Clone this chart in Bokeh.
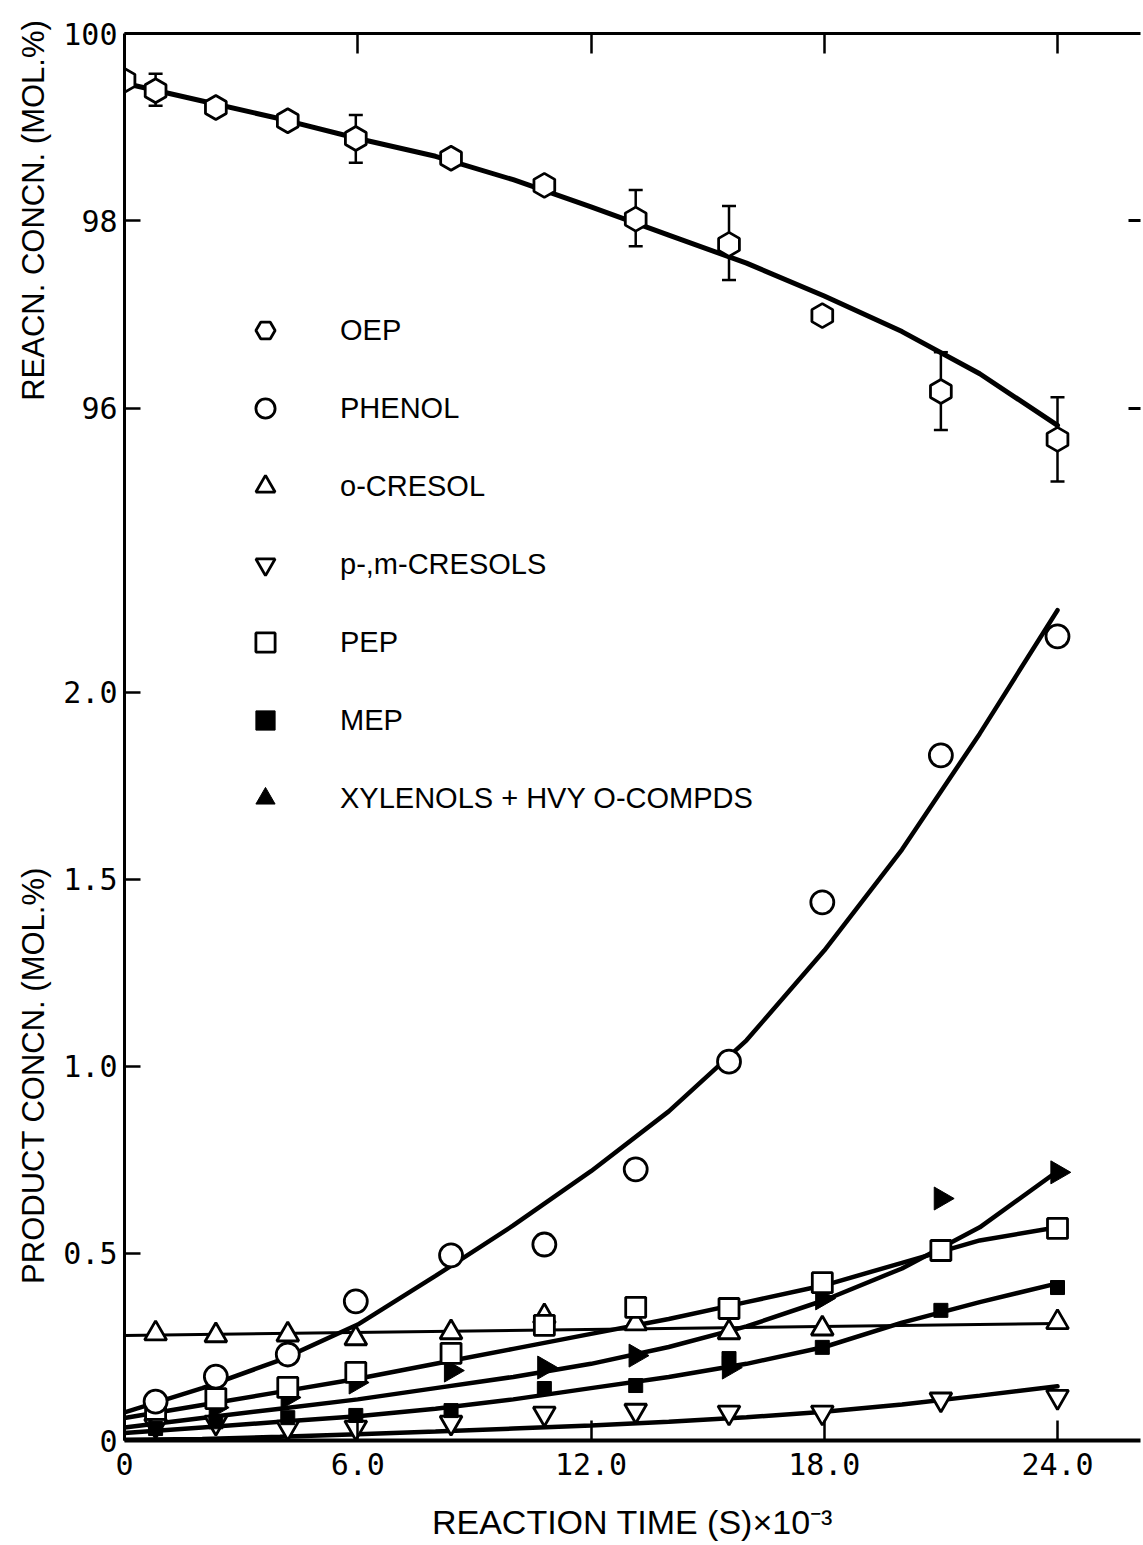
import numpy as np
from bokeh.plotting import figure
from bokeh.layouts import row
from bokeh.models import Range1d, LinearAxis, FixedTicker, Legend, LegendItem
from bokeh.core.properties import value
from bokeh.embed import file_html
from bokeh.resources import INLINE

# ---------------- data ----------------
# reaction time (s) x 1e-3
t_prod = [0.8, 2.35, 4.2, 5.95, 8.4, 10.8, 13.15, 15.55, 17.95, 21.0, 24.0]
t_oep = [0.0, 0.8, 2.35, 4.2, 5.95, 8.4, 10.8, 13.15, 15.55, 17.95, 21.0, 24.0]
t_ocresol = [0.8, 2.35, 4.2, 5.95, 8.4, 10.8, 13.15, 15.55, 17.95, 24.0]

# reactant (OEP) concentration, mol %
oep = [99.50, 99.39, 99.21, 99.07, 98.88, 98.67, 98.38, 98.02, 97.75, 96.99, 96.18, 95.67]
err_t = [0.8, 5.95, 13.15, 15.55, 21.0, 24.0]
err_hi = [99.57, 99.13, 98.33, 98.16, 96.60, 96.12]
err_lo = [99.23, 98.62, 97.73, 97.37, 95.77, 95.22]

# products, mol %
phenol = [0.104, 0.171, 0.230, 0.372, 0.495, 0.524, 0.725, 1.013, 1.439, 1.832, 2.150]
o_cresol = [0.286, 0.281, 0.283, 0.273, 0.289, 0.332, 0.313, 0.289, 0.299, 0.316]
pm_cresols = [0.040, 0.048, 0.035, 0.035, 0.048, 0.072, 0.080, 0.075, 0.075, 0.110, 0.117]
pep = [0.083, 0.112, 0.142, 0.182, 0.233, 0.308, 0.356, 0.353, 0.422, 0.508, 0.567]
mep = [0.032, 0.050, 0.061, 0.067, 0.080, 0.139, 0.147, 0.219, 0.249, 0.348, 0.409]
xylenols = [0.080, 0.088, 0.115, 0.155, 0.187, 0.195, 0.227, 0.195, 0.380, 0.647, 0.717]

# fitted curves
fit_t = [0, 2, 4, 6, 8, 10, 12, 14, 16, 18, 20, 22, 24]
oep_fit = [99.47, 99.28, 99.09, 98.88, 98.69, 98.44, 98.15, 97.85, 97.55, 97.20, 96.82, 96.37, 95.82]
phenol_fit = [0.075, 0.14, 0.215, 0.31, 0.44, 0.575, 0.72, 0.88, 1.07, 1.31, 1.58, 1.89, 2.22]
pep_fit = [0.06, 0.095, 0.13, 0.165, 0.205, 0.245, 0.285, 0.325, 0.37, 0.415, 0.475, 0.535, 0.57]
xyl_fit = [0.035, 0.06, 0.085, 0.11, 0.14, 0.17, 0.205, 0.25, 0.305, 0.375, 0.46, 0.57, 0.72]
mep_fit = [0.02, 0.035, 0.05, 0.065, 0.085, 0.11, 0.14, 0.17, 0.205, 0.25, 0.315, 0.37, 0.42]
pm_fit = [0.002, 0.004, 0.01, 0.017, 0.024, 0.032, 0.04, 0.05, 0.062, 0.077, 0.096, 0.12, 0.145]
ocresol_fit_t = [0, 24]
ocresol_fit = [0.281, 0.313]

# axes
x_ticks = [0, 6, 12, 18, 24]
x_tick_labels = ["0", "6.0", "12.0", "18.0", "24.0"]
prod_ticks = [0, 0.5, 1.0, 1.5, 2.0]
prod_tick_labels = ["0", "0.5", "1.0", "1.5", "2.0"]
reac_ticks = [96, 98, 100]
reac_tick_labels = ["96", "98", "100"]

reac_title = "REACN. CONCN. (MOL.%)"
prod_title = "PRODUCT CONCN. (MOL.%)"
x_title = "REACTION TIME (S)×10⁻³"

X_RANGE = (0.0, 26.135)
PROD_RANGE = (0.0, 3.762)
REAC_RANGE = (84.99, 100.0)

LABEL_FONT = "Liberation Sans"
TICK_FONT = "DejaVu Sans Mono"

TOP_B, BOT_B = 33, 105
TITLE_W = 56
PLOT_W, PLOT_H = 1087, 1545


def reac_to_prod(v):
    r0, r1 = REAC_RANGE
    p0, p1 = PROD_RANGE
    return p0 + (v - r0) / (r1 - r0) * (p1 - p0)


y_prod = Range1d(*PROD_RANGE)
y_reac = Range1d(*REAC_RANGE)

p = figure(width=PLOT_W, height=PLOT_H, output_backend="svg", toolbar_location=None,
           x_range=Range1d(*X_RANGE), y_range=y_prod,
           x_axis_location=None, y_axis_location=None,
           min_border_left=124 - TITLE_W, min_border_right=3, min_border_top=TOP_B,
           min_border_bottom=BOT_B)
p.extra_y_ranges = {"reac": y_reac}
p.outline_line_color = None
p.background_fill_color = "white"
p.border_fill_color = "white"
for g in p.grid:
    g.visible = False


def style_axis(ax, line_width):
    ax.axis_line_width = line_width
    ax.axis_line_color = "black"
    ax.major_tick_line_color = "black"
    ax.major_tick_out = 0
    ax.major_tick_line_width = 2.5
    ax.minor_tick_line_color = None
    ax.major_label_text_color = "black"
    ax.axis_label_text_color = "black"


def hide_labels(ax):
    ax.major_label_text_font_size = "0px"
    ax.major_label_standoff = 0
    ax.major_label_text_alpha = 0


# bottom axis
bottom = LinearAxis(ticker=FixedTicker(ticks=x_ticks),
                    major_label_overrides=dict(zip(x_ticks, x_tick_labels)))
style_axis(bottom, 4)
bottom.major_tick_in = 20
bottom.major_label_text_font = TICK_FONT
bottom.major_label_text_font_size = "30px"
bottom.major_label_standoff = 12
bottom.axis_label = x_title
bottom.axis_label_text_font = LABEL_FONT
bottom.axis_label_text_font_size = "34px"
bottom.axis_label_text_font_style = "normal"
bottom.axis_label_standoff = 25
p.add_layout(bottom, "below")

# left axis: product scale plus reactant ticks mapped onto it
left_ticks = list(prod_ticks) + [reac_to_prod(v) for v in reac_ticks]
left_labels = list(prod_tick_labels) + list(reac_tick_labels)
left = LinearAxis(ticker=FixedTicker(ticks=left_ticks),
                  major_label_overrides=dict(zip(left_ticks, left_labels)))
style_axis(left, 3)
left.major_tick_in = 16
left.major_label_text_font = TICK_FONT
left.major_label_text_font_size = "30px"
left.major_label_standoff = 7
p.add_layout(left, "left")

# top axis (ticks only)
top = LinearAxis(ticker=FixedTicker(ticks=x_ticks[1:]))
style_axis(top, 3)
top.major_tick_in = 20
hide_labels(top)
p.add_layout(top, "above")

# right axis (reactant ticks only)
right = LinearAxis(y_range_name="reac", ticker=FixedTicker(ticks=reac_ticks[:2]))
style_axis(right, 0)
right.axis_line_color = None
right.major_tick_in = 12
right.major_tick_line_width = 3
hide_labels(right)
p.add_layout(right, "right")

# ---------------- fitted curves ----------------
LW = 4.5
p.line(fit_t, oep_fit, y_range_name="reac", line_width=5, color="black", line_cap="round")
p.line(fit_t, phenol_fit, line_width=LW, color="black", line_cap="round")
p.line(ocresol_fit_t, ocresol_fit, line_width=3, color="black")
p.line(fit_t, pep_fit, line_width=LW, color="black", line_cap="round")
p.line(fit_t, xyl_fit, line_width=LW, color="black", line_cap="round")
p.line(fit_t, mep_fit, line_width=LW, color="black", line_cap="round")
p.line(fit_t, pm_fit, line_width=LW, color="black", line_cap="round")

# ---------------- error bars ----------------
p.segment(err_t, err_lo, err_t, err_hi, y_range_name="reac", line_width=2.5, color="black")
p.scatter(err_t, err_hi, marker="dash", size=14, line_width=2.5, color="black", y_range_name="reac")
p.scatter(err_t, err_lo, marker="dash", size=14, line_width=2.5, color="black", y_range_name="reac")

# ---------------- markers ----------------
MLW = 2.8
r_oep = p.scatter(t_oep, oep, marker="hex", angle=np.pi / 2, size=24, fill_color="white",
                  line_color="black", line_width=MLW, y_range_name="reac")
r_oc = p.scatter(t_ocresol, o_cresol, marker="triangle", size=22, fill_color="white",
                 line_color="black", line_width=MLW)
r_pm = p.scatter(t_prod, pm_cresols, marker="inverted_triangle", size=22, fill_color="white",
                 line_color="black", line_width=MLW)
r_mep = p.scatter(t_prod, mep, marker="square", size=14, fill_color="black",
                  line_color="black", line_width=1)
r_xyl = p.scatter(t_prod, xylenols, marker="triangle", angle=-np.pi / 2, size=23,
                  fill_color="black", line_color="black", line_width=1)
r_pep = p.scatter(t_prod, pep, marker="square", size=20, fill_color="white",
                  line_color="black", line_width=MLW)
r_ph = p.scatter(t_prod, phenol, marker="circle", size=23, fill_color="white",
                 line_color="black", line_width=MLW)

legend = Legend(items=[
    LegendItem(label="OEP", renderers=[r_oep]),
    LegendItem(label="PHENOL", renderers=[r_ph]),
    LegendItem(label="o-CRESOL", renderers=[r_oc]),
    LegendItem(label="p-,m-CRESOLS", renderers=[r_pm]),
    LegendItem(label="PEP", renderers=[r_pep]),
    LegendItem(label="MEP", renderers=[r_mep]),
    LegendItem(label="XYLENOLS + HVY O-COMPDS", renderers=[r_xyl]),
], location=(117, 618), orientation="vertical",
    glyph_width=48, glyph_height=48, spacing=30, label_standoff=51,
    padding=0, margin=0, background_fill_alpha=0, border_line_color=None,
    label_text_font=LABEL_FONT, label_text_font_size="29px", label_text_color="black")
p.add_layout(legend)

# ---------------- narrow strip holding the two y-axis titles (pixel coordinates) ----------------
tf = figure(width=TITLE_W, height=PLOT_H, output_backend="svg", toolbar_location=None,
            x_range=Range1d(0, TITLE_W), y_range=Range1d(0, PLOT_H),
            x_axis_location=None, y_axis_location=None,
            min_border_left=0, min_border_right=0, min_border_top=0, min_border_bottom=0)
tf.frame_align = False
tf.outline_line_color = None
for g in tf.grid:
    g.visible = False
title_style = dict(angle=np.pi / 2, text_align="center", text_baseline="middle",
                   text_font=value(LABEL_FONT), text_font_size="31px", text_color="black")
tf.text(x=[33], y=[PLOT_H - 210], text=[reac_title], **title_style)
tf.text(x=[33], y=[PLOT_H - 1075], text=[prod_title], **title_style)

layout = row(tf, p, spacing=0)
open("out.html", "w").write(file_html(layout, INLINE))
